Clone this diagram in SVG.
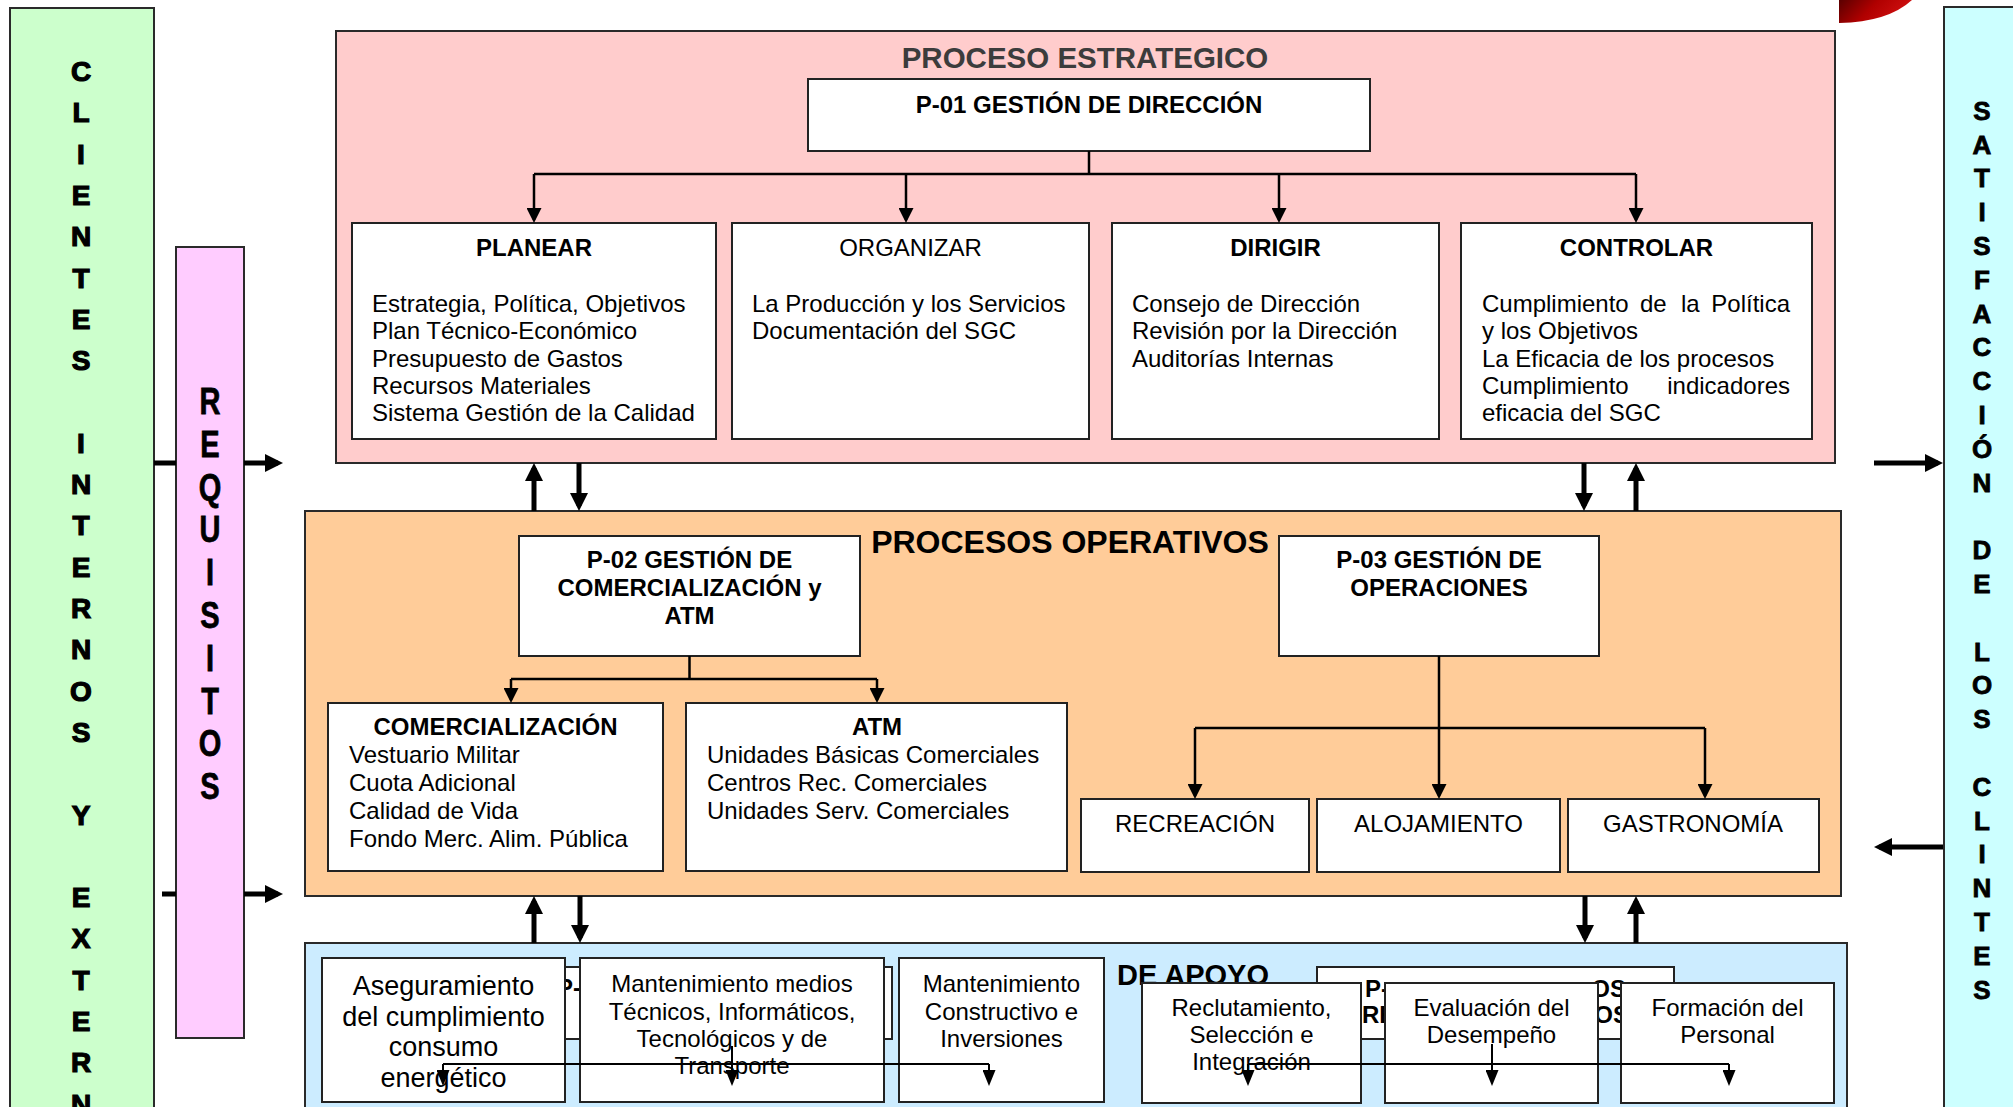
<svg xmlns="http://www.w3.org/2000/svg" width="2013" height="1107" viewBox="0 0 2013 1107">
<defs>
<style>
.t{font-family:"Liberation Sans",Arial,sans-serif;font-size:24px;fill:#000}
.b{font-weight:bold}
.c{text-anchor:middle}
.e{text-anchor:end}
.box{fill:#fff;stroke:#222;stroke-width:2}
.cont{stroke:#2a2a2a;stroke-width:2}
.vl{font-family:"Liberation Sans",Arial,sans-serif;font-weight:bold;text-anchor:middle;fill:#000;stroke:#000}
.thick{stroke:#000;stroke-width:5;fill:none}
.thin{stroke:#000;stroke-width:2.5;fill:none}
.fine{stroke:#000;stroke-width:2;fill:none}
</style>
<marker id="ah" markerUnits="userSpaceOnUse" markerWidth="18" markerHeight="18" viewBox="0 0 18 18" refX="13" refY="9" orient="auto"><path d="M0,0L18,9L0,18z" fill="#000"/></marker>
<marker id="am" markerUnits="userSpaceOnUse" markerWidth="15" markerHeight="15" viewBox="0 0 15 15" refX="12" refY="7.5" orient="auto"><path d="M0,0L15,7.5L0,15z" fill="#000"/></marker>
<marker id="as" markerUnits="userSpaceOnUse" markerWidth="16" markerHeight="13" viewBox="0 0 16 13" refX="13" refY="6.5" orient="auto"><path d="M0,0L16,6.5L0,13z" fill="#000"/></marker>
<linearGradient id="red" x1="0" y1="0" x2="1" y2="0.3"><stop offset="0" stop-color="#5a0000"/><stop offset="0.5" stop-color="#b00000"/><stop offset="1" stop-color="#d01010"/></linearGradient>
</defs>
<rect width="2013" height="1107" fill="#fff"/>
<path d="M1839,0V23Q1888,22 1912,0Z" fill="url(#red)"/>

<g id="clientes">
<rect x="10" y="8" width="144" height="1115" fill="#CCFFCC" class="cont"/>
<text class="vl" font-size="28" stroke-width="1.2"><tspan x="81" y="81">C</tspan><tspan x="81" y="122.4">L</tspan><tspan x="81" y="163.7">I</tspan><tspan x="81" y="205">E</tspan><tspan x="81" y="246.3">N</tspan><tspan x="81" y="287.6">T</tspan><tspan x="81" y="328.9">E</tspan><tspan x="81" y="370.2">S</tspan><tspan x="81" y="452.8">I</tspan><tspan x="81" y="494.1">N</tspan><tspan x="81" y="535.4">T</tspan><tspan x="81" y="576.7">E</tspan><tspan x="81" y="618">R</tspan><tspan x="81" y="659.3">N</tspan><tspan x="81" y="700.6">O</tspan><tspan x="81" y="741.9">S</tspan><tspan x="81" y="824.5">Y</tspan><tspan x="81" y="907.1">E</tspan><tspan x="81" y="948.4">X</tspan><tspan x="81" y="989.7">T</tspan><tspan x="81" y="1031">E</tspan><tspan x="81" y="1072.3">R</tspan><tspan x="81" y="1113.6">N</tspan></text>
</g>

<g id="requisitos">
<rect x="176" y="247" width="68" height="791" fill="#FFCCFF" class="cont"/>
<text class="vl" font-size="29" stroke-width="0.6" transform="translate(210 0) scale(1 1.3)"><tspan x="0" y="318.5">R</tspan><tspan x="0" y="351.4">E</tspan><tspan x="0" y="384.3">Q</tspan><tspan x="0" y="417.2">U</tspan><tspan x="0" y="450.2">I</tspan><tspan x="0" y="483.1">S</tspan><tspan x="0" y="516">I</tspan><tspan x="0" y="548.9">T</tspan><tspan x="0" y="581.8">O</tspan><tspan x="0" y="614.8">S</tspan></text>
</g>

<g id="satisfaccion">
<rect x="1944" y="7" width="80" height="1115" fill="#CCFFFF" class="cont"/>
<text class="vl" font-size="26" stroke-width="0.8"><tspan x="1982" y="119.7">S</tspan><tspan x="1982" y="153.5">A</tspan><tspan x="1982" y="187.3">T</tspan><tspan x="1982" y="221.1">I</tspan><tspan x="1982" y="254.9">S</tspan><tspan x="1982" y="288.7">F</tspan><tspan x="1982" y="322.5">A</tspan><tspan x="1982" y="356.3">C</tspan><tspan x="1982" y="390.1">C</tspan><tspan x="1982" y="423.9">I</tspan><tspan x="1982" y="457.7">Ó</tspan><tspan x="1982" y="491.5">N</tspan><tspan x="1982" y="559.1">D</tspan><tspan x="1982" y="592.9">E</tspan><tspan x="1982" y="660.5">L</tspan><tspan x="1982" y="694.3">O</tspan><tspan x="1982" y="728.1">S</tspan><tspan x="1982" y="795.7">C</tspan><tspan x="1982" y="829.5">L</tspan><tspan x="1982" y="863.3">I</tspan><tspan x="1982" y="897.1">N</tspan><tspan x="1982" y="930.9">T</tspan><tspan x="1982" y="964.7">E</tspan><tspan x="1982" y="998.5">S</tspan></text>
</g>

<g id="proceso-estrategico">
<rect x="336" y="31" width="1499" height="432" fill="#FFCCCC" class="cont"/>
<text class="t b c" x="1085" y="68" style="fill:#3c3c3c;font-size:29.5px">PROCESO ESTRATEGICO</text>
</g>

<g id="p01">
<rect x="808" y="79" width="562" height="72" class="box"/>
<text class="t b c" x="1089" y="113">P-01 GESTIÓN DE DIRECCIÓN</text>
</g>

<g id="planear">
<rect x="352" y="223" width="364" height="216" class="box"/>
<text class="t b c" x="534" y="256">PLANEAR</text>
<text class="t" x="372" y="312">Estrategia, Política, Objetivos</text>
<text class="t" x="372" y="339">Plan Técnico-Económico</text>
<text class="t" x="372" y="366.5">Presupuesto de Gastos</text>
<text class="t" x="372" y="394">Recursos Materiales</text>
<text class="t" x="372" y="421">Sistema Gestión de la Calidad</text>
</g>

<g id="organizar">
<rect x="732" y="223" width="357" height="216" class="box"/>
<text class="t c" x="910.5" y="256">ORGANIZAR</text>
<text class="t" x="752" y="312">La Producción y los Servicios</text>
<text class="t" x="752" y="339">Documentación del SGC</text>
</g>

<g id="dirigir">
<rect x="1112" y="223" width="327" height="216" class="box"/>
<text class="t b c" x="1275.5" y="256">DIRIGIR</text>
<text class="t" x="1132" y="312">Consejo de Dirección</text>
<text class="t" x="1132" y="339">Revisión por la Dirección</text>
<text class="t" x="1132" y="366.5">Auditorías Internas</text>
</g>

<g id="controlar">
<rect x="1461" y="223" width="351" height="216" class="box"/>
<text class="t b c" x="1636.5" y="256">CONTROLAR</text>
<text class="t" y="312"><tspan x="1482">Cumplimiento</tspan><tspan x="1640">de</tspan><tspan x="1681">la</tspan></text>
<text class="t e" x="1790" y="312">Política</text>
<text class="t" x="1482" y="339">y los Objetivos</text>
<text class="t" x="1482" y="366.5">La Eficacia de los procesos</text>
<text class="t" x="1482" y="394">Cumplimiento</text>
<text class="t e" x="1790" y="394">indicadores</text>
<text class="t" x="1482" y="421">eficacia del SGC</text>
</g>

<g id="procesos-operativos">
<rect x="305" y="511" width="1536" height="385" fill="#FFCC99" class="cont"/>
<text class="t b c" x="1070" y="553" style="font-size:32px">PROCESOS OPERATIVOS</text>
</g>

<g id="p02">
<rect x="519" y="536" width="341" height="120" class="box"/>
<text class="t b c" x="689.5" y="568">P-02 GESTIÓN DE</text>
<text class="t b c" x="689.5" y="596">COMERCIALIZACIÓN y</text>
<text class="t b c" x="689.5" y="624">ATM</text>
</g>

<g id="comercializacion">
<rect x="328" y="703" width="335" height="168" class="box"/>
<text class="t b c" x="495.5" y="735">COMERCIALIZACIÓN</text>
<text class="t" x="349" y="763">Vestuario Militar</text>
<text class="t" x="349" y="791">Cuota Adicional</text>
<text class="t" x="349" y="818.5">Calidad de Vida</text>
<text class="t" x="349" y="846.5">Fondo Merc. Alim. Pública</text>
</g>

<g id="atm">
<rect x="686" y="703" width="381" height="168" class="box"/>
<text class="t b c" x="877" y="735">ATM</text>
<text class="t" x="707" y="763">Unidades Básicas Comerciales</text>
<text class="t" x="707" y="791">Centros Rec. Comerciales</text>
<text class="t" x="707" y="818.5">Unidades Serv. Comerciales</text>
</g>

<g id="p03">
<rect x="1279" y="536" width="320" height="120" class="box"/>
<text class="t b c" x="1439" y="568">P-03 GESTIÓN DE</text>
<text class="t b c" x="1439" y="596">OPERACIONES</text>
</g>

<g id="recreacion">
<rect x="1081" y="799" width="228" height="73" class="box"/>
<text class="t c" x="1195" y="832">RECREACIÓN</text>
</g>
<g id="alojamiento">
<rect x="1317" y="799" width="243" height="73" class="box"/>
<text class="t c" x="1438.5" y="832">ALOJAMIENTO</text>
</g>
<g id="gastronomia">
<rect x="1568" y="799" width="251" height="73" class="box"/>
<text class="t c" x="1693" y="832">GASTRONOMÍA</text>
</g>

<g id="procesos-apoyo">
<rect x="305" y="943" width="1542" height="180" fill="#CCECFF" class="cont"/>
</g>

<g id="p04-oculto">
<rect x="540" y="967" width="352" height="72" class="box"/>
<text class="t b" x="557" y="996">P-</text>
</g>

<g id="p05-oculto">
<rect x="1317" y="967" width="357" height="72" class="box"/>
<text class="t b" x="1365" y="997">P-</text>
<text class="t b" x="1362" y="1023">RE</text>
<text class="t b e" x="1626" y="997">OS</text>
<text class="t b e" x="1629" y="1023">OS</text>
</g>

<g id="aseguramiento">
<rect x="322" y="958" width="243" height="144" class="box"/>
<text class="t c" x="443.5" y="995" style="font-size:27px">Aseguramiento</text>
<text class="t c" x="443.5" y="1026" style="font-size:27px">del cumplimiento</text>
<text class="t c" x="443.5" y="1056" style="font-size:27px">consumo</text>
<text class="t c" x="443.5" y="1087" style="font-size:27px">energético</text>
</g>

<g id="mant-medios">
<rect x="580" y="958" width="304" height="144" class="box"/>
<text class="t c" x="732" y="992">Mantenimiento medios</text>
<text class="t c" x="732" y="1019.5">Técnicos, Informáticos,</text>
<text class="t c" x="732" y="1047">Tecnológicos y de</text>
<text class="t c" x="732" y="1074">Transporte</text>
</g>

<g id="mant-constructivo">
<rect x="899" y="958" width="205" height="144" class="box"/>
<text class="t c" x="1001.5" y="992">Mantenimiento</text>
<text class="t c" x="1001.5" y="1019.5">Constructivo e</text>
<text class="t c" x="1001.5" y="1047">Inversiones</text>
</g>

<g id="titulo-apoyo">
<text class="t b" x="1117" y="985" style="font-size:29px">DE APOYO</text>
</g>

<g id="reclutamiento">
<rect x="1142" y="983" width="219" height="120" class="box"/>
<text class="t c" x="1251.5" y="1016">Reclutamiento,</text>
<text class="t c" x="1251.5" y="1043">Selección e</text>
<text class="t c" x="1251.5" y="1070">Integración</text>
</g>

<g id="evaluacion">
<rect x="1385" y="983" width="213" height="120" class="box"/>
<text class="t c" x="1491.5" y="1016">Evaluación del</text>
<text class="t c" x="1491.5" y="1043">Desempeño</text>
</g>

<g id="formacion">
<rect x="1621" y="983" width="213" height="120" class="box"/>
<text class="t c" x="1727.5" y="1016">Formación del</text>
<text class="t c" x="1727.5" y="1043">Personal</text>
</g>

<g id="connectors">
<path class="thick" d="M154,463H176M162,894H176"/>
<path class="thick" d="M244,463H278" marker-end="url(#ah)"/>
<path class="thick" d="M244,894H278" marker-end="url(#ah)"/>
<path class="thick" d="M1874,463H1938" marker-end="url(#ah)"/>
<path class="thick" d="M1943,847H1879" marker-end="url(#ah)"/>

<path class="thick" d="M534,511V468" marker-end="url(#ah)"/>
<path class="thick" d="M579,463V506" marker-end="url(#ah)"/>
<path class="thick" d="M1584,463V506" marker-end="url(#ah)"/>
<path class="thick" d="M1636,511V468" marker-end="url(#ah)"/>

<path class="thick" d="M534,943V901" marker-end="url(#ah)"/>
<path class="thick" d="M580,896V938" marker-end="url(#ah)"/>
<path class="thick" d="M1585,896V938" marker-end="url(#ah)"/>
<path class="thick" d="M1636,943V901" marker-end="url(#ah)"/>

<path class="thin" d="M1089,151V174M534,174H1636"/>
<path class="thin" d="M534,174V220" marker-end="url(#am)"/>
<path class="thin" d="M906,174V220" marker-end="url(#am)"/>
<path class="thin" d="M1279,174V220" marker-end="url(#am)"/>
<path class="thin" d="M1636,174V220" marker-end="url(#am)"/>

<path class="thin" d="M689.5,656V679M511,679H877"/>
<path class="thin" d="M511,679V700" marker-end="url(#am)"/>
<path class="thin" d="M877,679V700" marker-end="url(#am)"/>

<path class="thin" d="M1195,728H1705"/>
<path class="thin" d="M1439,656V796" marker-end="url(#am)"/>
<path class="thin" d="M1195,728V796" marker-end="url(#am)"/>
<path class="thin" d="M1705,728V796" marker-end="url(#am)"/>

<path class="fine" d="M443,1064H989"/>
<path class="fine" d="M443,1064V1083" marker-end="url(#as)"/>
<path class="fine" d="M732,1046V1083" marker-end="url(#as)"/>
<path class="fine" d="M989,1064V1083" marker-end="url(#as)"/>

<path class="fine" d="M1248,1064H1729"/>
<path class="fine" d="M1248,1064V1083" marker-end="url(#as)"/>
<path class="fine" d="M1492,1044V1083" marker-end="url(#as)"/>
<path class="fine" d="M1729,1064V1083" marker-end="url(#as)"/>
</g>
</svg>
